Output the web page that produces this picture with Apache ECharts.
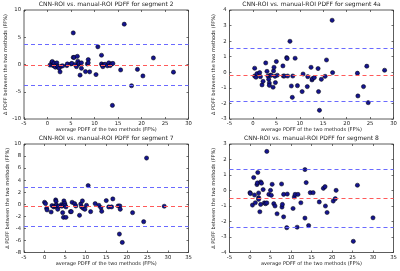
<!DOCTYPE html>
<html><head><meta charset="utf-8">
<script src="https://cdn.jsdelivr.net/npm/echarts@6/dist/echarts.min.js"></script>
<style>html,body{margin:0;padding:0;background:#fff}#c{width:400px;height:271px}</style>
</head><body><div id="c"></div>
<script>
// ---- data ----
const titles = [
  'CNN-ROI vs. manual-ROI PDFF for segment 2',
  'CNN-ROI vs. manual-ROI PDFF for segment 4a',
  'CNN-ROI vs. manual-ROI PDFF for segment 7',
  'CNN-ROI vs. manual-ROI PDFF for segment 8'
];
const xAxisName = 'average PDFF of the two methods (FF%)';
const yAxisName = 'Δ PDFF between the two methods (FF%)';

const seg2X = [0.54,0.92,1.02,1.17,1.41,1.5,1.7,1.99,2.09,2.23,2.47,2.67,2.96,3.25,4.12,4.22,4.99,5.19,5.48,5.48,5.67,5.87,6.16,6.35,6.45,6.64,6.74,6.93,7.22,7.22,8.09,8.48,8.67,8.67,8.97,10.32,10.71,11.49,11.49,11.68,11.78,12.07,12.26,12.74,13.04,13.33,13.62,13.91,13.81,15.56,16.33,17.88,19.14,20.3,22.53,26.8];
const seg2Y = [-0.1,0.4,0.55,-0.2,0.25,-0.3,-0.5,0.3,-0.25,-0.4,-0.7,-1.35,-0.3,-0.25,-0.2,0.1,0.1,0.2,5.8,1.3,1.3,0,-0.4,1.5,0.6,0.05,0.25,-1.95,-0.7,0.3,-1.3,0.1,0.9,0.3,-1.35,-1.85,3.25,1.7,0.1,-0.2,-0.4,0,0.05,-0.25,0.3,-0.2,0.1,0.2,-7.5,-1.0,7.4,-3.9,-0.9,-2.1,1.2,-1.4];
const seg2Lines = [3.68, -0.05, -3.72];   // upper limit, mean, lower limit

const seg4aX = [0.37,0.37,0.66,0.87,1.44,1.6,1.94,2.16,2.73,3.0,3.2,3.37,3.5,3.5,3.7,3.9,4.3,4.4,4.5,4.7,4.8,5.0,5.2,6.4,6.5,6.7,7.2,7.3,7.4,7.9,8.2,8.4,8.5,9.0,9.5,10.7,10.5,11.6,11.7,12.4,12.6,12.7,13.1,13.9,14.0,14.2,14.6,15.4,15.7,16.9,17.0,22.3,22.4,23.6,24.3,24.6,28.1];
const seg4aY = [0.26,-0.24,-0.32,-0.09,-0.02,-0.28,-0.81,-0.58,0.6,0.06,-0.24,-0.45,-0.69,-0.84,-0.19,-0.19,-0.96,0.09,0.32,-0.26,-0.66,0.69,-0.19,0.41,-0.24,-0.24,0.94,0.88,-0.24,1.99,-0.88,-1.61,-0.24,0.9,-0.86,-0.11,-1.24,-0.92,-0.28,0.32,-0.49,-0.41,-0.34,0.24,-1.24,-2.44,-0.45,-0.26,0.79,3.34,-0.02,-0.06,-1.52,-0.92,0.39,-1.95,0.13];
const seg4aLines = [1.52, -0.17, -1.87];

const seg7X = [0,0.24,0.5,0.6,1.6,1.8,2.2,2.4,2.7,2.8,2.7,2.9,3.1,3.2,3.5,4.1,4.2,4.4,4.6,4.6,4.7,4.9,5.0,5.2,5.2,6.3,6.5,6.7,7.3,7.6,8.5,8.8,9.0,9.2,9.4,9.8,10.2,10.6,11.2,12.3,13.2,13.7,13.9,15.0,15.6,16.3,16.6,17.9,18.3,18.4,18.2,18.9,21.4,24.1,24.8,29.1];
const seg7Y = [0.33,0.11,-0.67,-0.94,-1.28,-0.22,-0.44,-0.28,0.72,0.5,-0.28,-0.11,-0.44,-0.83,-0.33,-0.06,-0.33,-1.39,-0.11,-2.17,0.56,0.17,-0.17,-2.17,-0.44,-1.22,-1.22,0.33,0.11,-0.28,-1.83,0.06,-0.44,0.56,-0.67,-0.83,-0.17,3.1,-1.22,0.11,-0.17,-0.56,-1.17,0.61,-0.44,-0.44,0.89,-0.28,-0.28,-0.83,-4.94,-6.33,-1.39,-2.89,7.67,-0.33];
const seg7Lines = [2.83, -0.33, -3.67];

const seg8X = [0,0.1,0.6,0.9,1.1,1.3,1.7,1.8,1.9,2.1,2.1,2.1,2.4,2.6,2.6,2.8,3.2,3.5,3.8,4.1,4.1,4.6,5.0,5.2,5.4,5.8,6.1,6.6,7.7,7.8,7.9,8.2,8.2,8.97,9.1,10.5,10.8,11.0,11.5,11.7,12.4,13.4,13.4,13.7,14.3,14.7,15.4,16.9,17.9,18.3,18.4,18.8,20.3,20.8,21.0,25.2,26.2,30.0];
const seg8Y = [-0.14,-0.2,-0.94,0.84,-0.29,-0.79,0.38,0.49,1.16,-0.16,-0.46,-0.57,-1.37,-0.9,0.55,0.47,0.06,-0.8,-0.85,-0.8,2.52,-0.25,0.01,-0.31,0.4,-0.85,-1.0,-1.5,0.42,-1.07,-0.9,-1.7,-0.25,-2.4,-0.23,-1.16,-0.42,-0.25,-2.37,-0.25,-0.79,1.35,-1.78,0.51,-2.26,-0.14,-0.14,-0.74,0.14,0.25,-1.0,-1.42,-0.68,-0.53,0.01,-3.28,0.34,-1.76];
const seg8Lines = [1.38, -0.47, -2.34];

// axis ranges [min, max, interval]
const xRanges = [[-5,30,5],[-5,30,5],[-5,35,5],[-5,35,5]];
const yRanges = [[-10,10,5],[-3,4,1],[-8,10,2],[-4,3,1]];

const seriesX = [seg2X, seg4aX, seg7X, seg8X];
const seriesY = [seg2Y, seg4aY, seg7Y, seg8Y];
const seriesLines = [seg2Lines, seg4aLines, seg7Lines, seg8Lines];

// ---- layout ----
const grids = [
  {left:24,  top:10,  width:164.5, height:109},
  {left:229.5, top:10, width:164,  height:109},
  {left:24,  top:144, width:164.5, height:108.5},
  {left:229.5, top:144, width:164, height:108.5}
];
const titleTops = [1, 1, 135, 135];
const FONT = 'DejaVu Sans';
const txt = '#222';

const option = {
  backgroundColor:'#fff',
  animation:false,
  title:[], grid:[], xAxis:[], yAxis:[], series:[]
};

grids.forEach((g,i)=>{
  option.grid.push(Object.assign({show:true, borderColor:'#333', borderWidth:0.8, backgroundColor:'#fff'}, g));
  option.title.push({
    text:titles[i], left:g.left + g.width/2, top:titleTops[i], textAlign:'center', padding:0,
    textStyle:{fontSize:6, fontWeight:'normal', color:txt, fontFamily:FONT}
  });
  const xr = xRanges[i], yr = yRanges[i];
  const tick = {show:true, inside:true, length:2, lineStyle:{color:'#333', width:0.7}};
  const line = {show:false, onZero:false};
  // bottom x axis
  option.xAxis.push({
    type:'value', gridIndex:i, min:xr[0], max:xr[1], interval:xr[2], position:'bottom',
    axisLine:line, axisTick:tick, splitLine:{show:false},
    axisLabel:{fontSize:5.3, color:txt, fontFamily:FONT, margin:2.5},
    name:xAxisName, nameLocation:'middle', nameGap:8,
    nameTextStyle:{fontSize:5, color:txt, fontFamily:FONT}
  });
  // top x axis (ticks only)
  option.xAxis.push({
    type:'value', gridIndex:i, min:xr[0], max:xr[1], interval:xr[2], position:'top',
    axisLine:line, axisTick:tick, splitLine:{show:false}, axisLabel:{show:false}
  });
  option.yAxis.push({
    type:'value', gridIndex:i, min:yr[0], max:yr[1], interval:yr[2], position:'left',
    axisLine:line, axisTick:tick, splitLine:{show:false},
    axisLabel:{fontSize:5.3, color:txt, fontFamily:FONT, margin:3},
    name:yAxisName, nameLocation:'middle', nameGap:13.5,
    nameTextStyle:{fontSize:5, color:txt, fontFamily:FONT}
  });
  option.yAxis.push({
    type:'value', gridIndex:i, min:yr[0], max:yr[1], interval:yr[2], position:'right',
    axisLine:line, axisTick:tick, splitLine:{show:false}, axisLabel:{show:false}
  });
  const L = seriesLines[i];
  const dash = [4,3];
  option.series.push({
    type:'scatter', xAxisIndex:2*i, yAxisIndex:2*i,
    data: seriesX[i].map((x,k)=>[x, seriesY[i][k]]),
    symbolSize:4.2,
    itemStyle:{color:'#15158f', borderColor:'#000', borderWidth:0.5, opacity:1},
    markLine:{
      silent:true, symbol:['none','none'], label:{show:false}, animation:false,
      data:[
        {yAxis:L[0], lineStyle:{color:'#6a6aff', type:dash, width:1.2}},
        {yAxis:L[1], lineStyle:{color:'#ff5a5a', type:dash, width:1.2}},
        {yAxis:L[2], lineStyle:{color:'#6a6aff', type:dash, width:1.2}}
      ]
    },
    z:3
  });
});

const chart = echarts.init(document.getElementById('c'), null, {renderer:'canvas'});
chart.setOption(option);
</script></body></html>
